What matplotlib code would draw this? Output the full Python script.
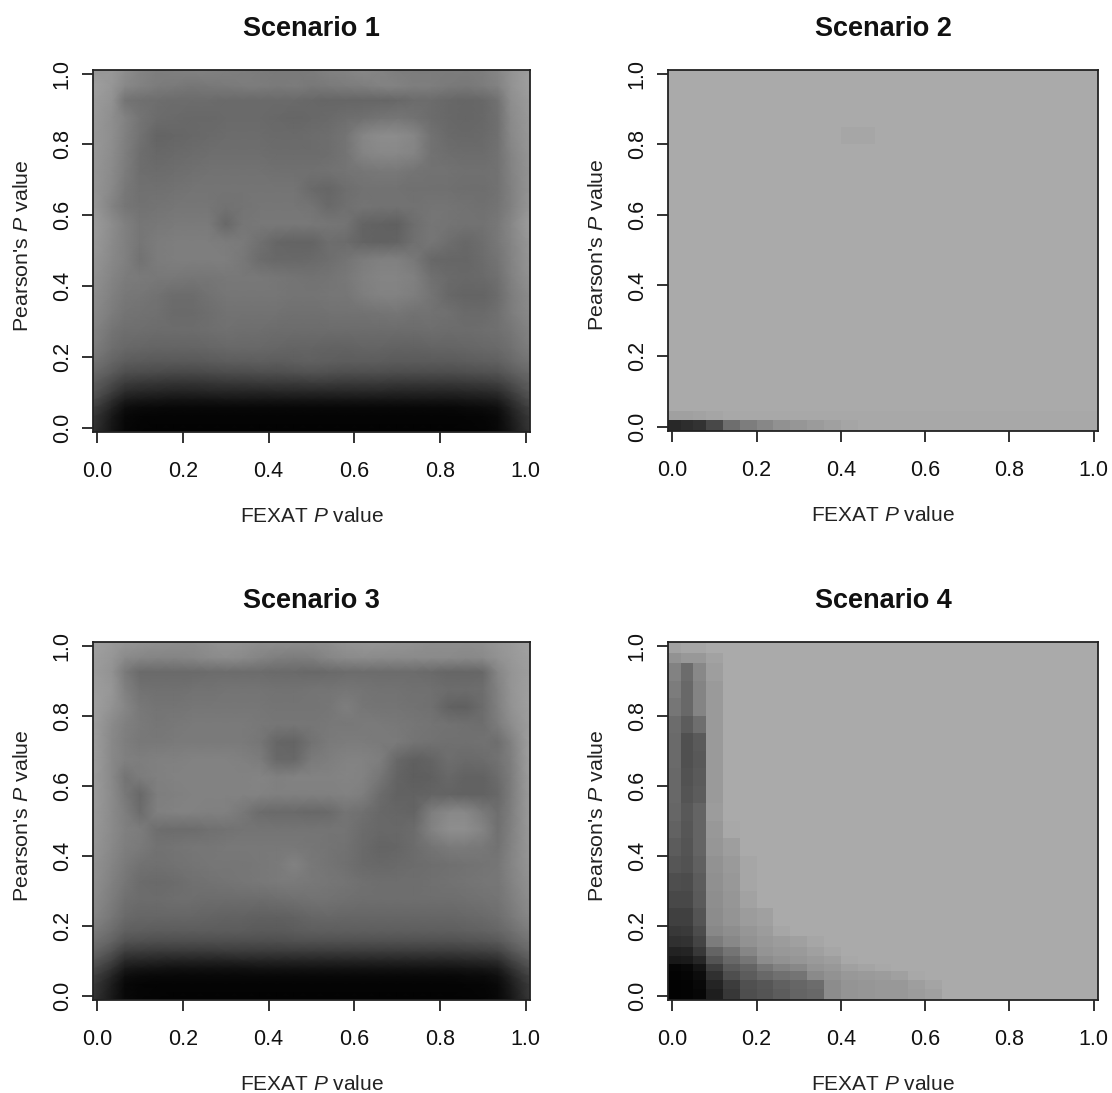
# -*- coding: utf-8 -*-
"""
four grey density maps, FEXAT vs Pearson P values
"""
import numpy as np
import matplotlib
matplotlib.use('Agg')
import matplotlib.pyplot as plt

plt.rcParams['font.family'] = ['Liberation Sans', 'DejaVu Sans']
plt.rcParams['mathtext.fontset'] = 'custom'
plt.rcParams['mathtext.it'] = 'Liberation Sans:italic'
plt.rcParams['mathtext.rm'] = 'Liberation Sans'

x_bins = [-.01, .02, .05, .08, .12, .16, .20, .24, .28, .32, .36, .40, .44, .48,
          .52, .56, .60, .64, .68, .72, .76, .80, .84, .88, .92, .95, .98, 1.01]
y_bins = [-.012, .02, .045, .07, .09, .115, .14, .17, .20, .25, .30, .35, .40, .45,
          .50, .55, .60, .65, .70, .75, .80, .85, .90, .95, .98, 1.01]
ticks = [0.0, 0.2, 0.4, 0.6, 0.8, 1.0]
tick_labels = ['0.0', '0.2', '0.4', '0.6', '0.8', '1.0']

# grey level of each cell, rows from the bottom (P=0) to the top (P=1)
scenario_1 = [
    [48, 20, 6, 4, 3, 3, 3, 3, 3, 3, 3, 3, 3, 3, 3, 3, 3, 3, 3, 3, 3, 3, 3, 4, 8, 22, 52],
    [55, 24, 8, 5, 4, 4, 4, 4, 4, 4, 4, 4, 4, 4, 4, 4, 4, 4, 4, 4, 4, 4, 5, 6, 10, 28, 58],
    [65, 34, 14, 10, 9, 8, 8, 8, 8, 8, 8, 8, 8, 8, 8, 8, 8, 8, 8, 8, 8, 8, 10, 12, 16, 36, 66],
    [78, 46, 28, 24, 22, 20, 20, 20, 22, 22, 22, 22, 22, 22, 22, 22, 22, 22, 22, 22, 22, 22, 24, 26, 30, 48, 78],
    [88, 62, 44, 40, 38, 36, 36, 38, 38, 38, 38, 40, 40, 40, 40, 40, 40, 40, 38, 38, 38, 38, 40, 42, 46, 62, 88],
    [96, 74, 60, 56, 54, 52, 52, 54, 56, 56, 58, 58, 58, 60, 60, 58, 58, 58, 56, 56, 56, 56, 58, 60, 64, 76, 96],
    [106, 90, 78, 76, 74, 72, 72, 74, 76, 76, 78, 78, 80, 82, 80, 78, 78, 78, 76, 76, 76, 76, 78, 80, 82, 92, 106],
    [116, 100, 92, 90, 88, 88, 88, 90, 92, 92, 94, 92, 94, 96, 94, 92, 92, 92, 90, 90, 90, 90, 92, 94, 96, 104, 116],
    [126, 110, 104, 102, 100, 100, 100, 102, 104, 104, 104, 102, 100, 100, 98, 98, 100, 100, 98, 98, 100, 100, 102, 104, 106, 112, 126],
    [132, 116, 110, 110, 108, 108, 108, 110, 112, 110, 110, 108, 108, 108, 108, 108, 108, 108, 108, 108, 110, 108, 108, 110, 112, 118, 132],
    [138, 124, 116, 114, 112, 106, 106, 110, 114, 114, 114, 114, 112, 112, 114, 114, 114, 116, 118, 114, 114, 112, 106, 106, 112, 124, 138],
    [142, 128, 120, 118, 114, 108, 108, 114, 118, 118, 118, 118, 116, 116, 118, 118, 126, 130, 130, 126, 116, 104, 100, 100, 108, 124, 140],
    [146, 132, 124, 122, 120, 120, 118, 118, 120, 120, 120, 118, 116, 114, 116, 120, 128, 132, 132, 128, 112, 106, 104, 106, 112, 128, 146],
    [150, 136, 128, 114, 124, 126, 126, 126, 126, 120, 108, 104, 104, 106, 110, 116, 124, 128, 128, 120, 104, 102, 102, 108, 116, 130, 150],
    [154, 138, 128, 118, 124, 126, 126, 126, 124, 122, 112, 102, 100, 100, 110, 108, 100, 98, 100, 112, 118, 110, 104, 110, 120, 132, 152],
    [156, 140, 128, 118, 120, 122, 122, 122, 104, 118, 120, 120, 120, 120, 118, 116, 100, 98, 96, 110, 118, 116, 114, 114, 120, 134, 158],
    [152, 130, 118, 114, 116, 118, 118, 118, 114, 116, 118, 118, 118, 116, 106, 112, 116, 114, 114, 114, 116, 116, 114, 112, 116, 128, 150],
    [150, 136, 120, 112, 112, 114, 116, 116, 116, 116, 116, 116, 116, 106, 102, 110, 114, 114, 114, 112, 112, 112, 110, 110, 114, 128, 148],
    [150, 138, 124, 110, 108, 110, 112, 114, 114, 114, 114, 112, 112, 112, 114, 116, 118, 120, 120, 116, 114, 114, 112, 112, 114, 130, 148],
    [152, 140, 126, 110, 104, 106, 108, 110, 110, 110, 110, 108, 108, 108, 110, 116, 132, 136, 136, 132, 114, 110, 108, 108, 114, 132, 150],
    [152, 142, 128, 114, 100, 102, 104, 106, 108, 108, 108, 106, 106, 108, 110, 116, 134, 140, 140, 134, 114, 106, 104, 106, 112, 136, 152],
    [154, 142, 130, 116, 108, 106, 104, 104, 106, 106, 106, 104, 102, 104, 106, 110, 112, 116, 118, 114, 108, 104, 102, 104, 112, 138, 154],
    [156, 146, 116, 112, 110, 108, 108, 108, 106, 106, 106, 106, 106, 104, 102, 102, 102, 102, 104, 108, 108, 104, 102, 104, 114, 142, 156],
    [160, 150, 136, 130, 124, 122, 118, 120, 122, 124, 124, 122, 124, 120, 122, 124, 126, 130, 130, 126, 126, 122, 120, 124, 130, 146, 160],
    [150, 152, 142, 132, 126, 128, 130, 130, 128, 126, 124, 122, 122, 124, 130, 132, 136, 132, 126, 124, 124, 124, 124, 126, 134, 146, 158],
]

scenario_2 = [
    [40, 45, 50, 72, 110, 125, 135, 145, 150, 155, 160, 165, 168, 168, 168, 168, 168, 168, 168, 168, 168, 168, 168, 168, 168, 168, 168],
    [160, 160, 162, 165, 168, 168, 168, 168, 168, 168, 168, 168, 168, 168, 168, 168, 168, 168, 168, 168, 168, 168, 168, 168, 168, 168, 168],
    [170, 170, 170, 170, 170, 170, 170, 170, 170, 170, 170, 170, 170, 170, 170, 170, 170, 170, 170, 170, 170, 170, 170, 170, 170, 170, 170],
    [170, 170, 170, 170, 170, 170, 170, 170, 170, 170, 170, 170, 170, 170, 170, 170, 170, 170, 170, 170, 170, 170, 170, 170, 170, 170, 170],
    [170, 170, 170, 170, 170, 170, 170, 170, 170, 170, 170, 170, 170, 170, 170, 170, 170, 170, 170, 170, 170, 170, 170, 170, 170, 170, 170],
    [170, 170, 170, 170, 170, 170, 170, 170, 170, 170, 170, 170, 170, 170, 170, 170, 170, 170, 170, 170, 170, 170, 170, 170, 170, 170, 170],
    [170, 170, 170, 170, 170, 170, 170, 170, 170, 170, 170, 170, 170, 170, 170, 170, 170, 170, 170, 170, 170, 170, 170, 170, 170, 170, 170],
    [170, 170, 170, 170, 170, 170, 170, 170, 170, 170, 170, 170, 170, 170, 170, 170, 170, 170, 170, 170, 170, 170, 170, 170, 170, 170, 170],
    [170, 170, 170, 170, 170, 170, 170, 170, 170, 170, 170, 170, 170, 170, 170, 170, 170, 170, 170, 170, 170, 170, 170, 170, 170, 170, 170],
    [170, 170, 170, 170, 170, 170, 170, 170, 170, 170, 170, 170, 170, 170, 170, 170, 170, 170, 170, 170, 170, 170, 170, 170, 170, 170, 170],
    [170, 170, 170, 170, 170, 170, 170, 170, 170, 170, 170, 170, 170, 170, 170, 170, 170, 170, 170, 170, 170, 170, 170, 170, 170, 170, 170],
    [170, 170, 170, 170, 170, 170, 170, 170, 170, 170, 170, 170, 170, 170, 170, 170, 170, 170, 170, 170, 170, 170, 170, 170, 170, 170, 170],
    [170, 170, 170, 170, 170, 170, 170, 170, 170, 170, 170, 170, 170, 170, 170, 170, 170, 170, 170, 170, 170, 170, 170, 170, 170, 170, 170],
    [170, 170, 170, 170, 170, 170, 170, 170, 170, 170, 170, 170, 170, 170, 170, 170, 170, 170, 170, 170, 170, 170, 170, 170, 170, 170, 170],
    [170, 170, 170, 170, 170, 170, 170, 170, 170, 170, 170, 170, 170, 170, 170, 170, 170, 170, 170, 170, 170, 170, 170, 170, 170, 170, 170],
    [170, 170, 170, 170, 170, 170, 170, 170, 170, 170, 170, 170, 170, 170, 170, 170, 170, 170, 170, 170, 170, 170, 170, 170, 170, 170, 170],
    [170, 170, 170, 170, 170, 170, 170, 170, 170, 170, 170, 170, 170, 170, 170, 170, 170, 170, 170, 170, 170, 170, 170, 170, 170, 170, 170],
    [170, 170, 170, 170, 170, 170, 170, 170, 170, 170, 170, 170, 170, 170, 170, 170, 170, 170, 170, 170, 170, 170, 170, 170, 170, 170, 170],
    [170, 170, 170, 170, 170, 170, 170, 170, 170, 170, 170, 170, 170, 170, 170, 170, 170, 170, 170, 170, 170, 170, 170, 170, 170, 170, 170],
    [170, 170, 170, 170, 170, 170, 170, 170, 170, 170, 170, 170, 170, 170, 170, 170, 170, 170, 170, 170, 170, 170, 170, 170, 170, 170, 170],
    [170, 170, 170, 170, 170, 170, 170, 170, 170, 170, 170, 166, 166, 170, 170, 170, 170, 170, 170, 170, 170, 170, 170, 170, 170, 170, 170],
    [170, 170, 170, 170, 170, 170, 170, 170, 170, 170, 170, 170, 170, 170, 170, 170, 170, 170, 170, 170, 170, 170, 170, 170, 170, 170, 170],
    [170, 170, 170, 170, 170, 170, 170, 170, 170, 170, 170, 170, 170, 170, 170, 170, 170, 170, 170, 170, 170, 170, 170, 170, 170, 170, 170],
    [170, 170, 170, 170, 170, 170, 170, 170, 170, 170, 170, 170, 170, 170, 170, 170, 170, 170, 170, 170, 170, 170, 170, 170, 170, 170, 170],
    [170, 170, 170, 170, 170, 170, 170, 170, 170, 170, 170, 170, 170, 170, 170, 170, 170, 170, 170, 170, 170, 170, 170, 170, 170, 170, 170],
]

scenario_3 = [
    [50, 24, 8, 5, 4, 3, 3, 3, 3, 3, 3, 3, 3, 3, 3, 3, 3, 3, 3, 3, 3, 3, 3, 4, 8, 22, 55],
    [58, 28, 8, 5, 4, 4, 4, 4, 4, 4, 4, 4, 4, 4, 4, 4, 4, 4, 4, 4, 4, 4, 5, 6, 10, 28, 60],
    [66, 36, 14, 10, 8, 8, 8, 8, 8, 8, 8, 8, 8, 8, 8, 8, 8, 8, 8, 8, 8, 8, 10, 10, 16, 36, 68],
    [78, 50, 26, 22, 20, 18, 18, 18, 18, 18, 20, 20, 20, 20, 20, 20, 20, 20, 20, 20, 20, 20, 22, 24, 28, 50, 80],
    [90, 66, 42, 40, 38, 36, 36, 36, 36, 38, 38, 38, 38, 38, 38, 38, 38, 38, 38, 38, 38, 38, 40, 42, 46, 66, 92],
    [104, 82, 62, 60, 58, 58, 58, 58, 60, 60, 60, 60, 60, 60, 60, 60, 60, 60, 60, 60, 60, 60, 62, 64, 68, 84, 106],
    [114, 98, 82, 80, 78, 78, 78, 78, 78, 78, 78, 78, 80, 80, 80, 80, 80, 80, 80, 80, 80, 80, 82, 84, 88, 100, 116],
    [124, 108, 96, 94, 92, 92, 92, 92, 92, 92, 90, 90, 92, 94, 94, 94, 94, 94, 94, 94, 94, 94, 96, 98, 102, 110, 126],
    [134, 118, 106, 102, 102, 102, 102, 100, 98, 98, 96, 96, 98, 102, 104, 102, 102, 102, 102, 102, 102, 102, 104, 106, 110, 120, 136],
    [140, 124, 112, 108, 108, 110, 110, 108, 108, 108, 108, 110, 112, 114, 114, 112, 110, 110, 110, 110, 110, 110, 112, 114, 116, 126, 142],
    [144, 128, 118, 108, 106, 108, 112, 114, 116, 118, 120, 122, 122, 120, 118, 116, 112, 110, 110, 110, 112, 114, 116, 118, 118, 130, 146],
    [146, 132, 122, 114, 112, 114, 116, 118, 118, 118, 120, 122, 130, 120, 116, 112, 106, 104, 106, 108, 110, 112, 114, 116, 118, 132, 150],
    [150, 136, 126, 122, 114, 116, 118, 118, 120, 120, 120, 120, 120, 118, 116, 114, 106, 100, 102, 108, 116, 122, 122, 120, 114, 130, 152],
    [152, 138, 128, 124, 110, 108, 108, 112, 114, 116, 116, 116, 116, 116, 116, 116, 108, 104, 104, 108, 130, 142, 142, 132, 112, 128, 154],
    [154, 138, 126, 108, 128, 130, 130, 128, 128, 120, 108, 106, 106, 104, 106, 116, 112, 104, 102, 100, 126, 136, 136, 122, 110, 126, 156],
    [156, 138, 120, 104, 126, 128, 130, 130, 130, 130, 130, 128, 128, 128, 128, 130, 126, 108, 98, 98, 100, 100, 98, 98, 104, 124, 156],
    [156, 136, 116, 124, 128, 130, 130, 130, 130, 130, 132, 128, 130, 130, 130, 132, 130, 118, 100, 94, 96, 104, 98, 98, 108, 124, 158],
    [158, 136, 128, 126, 128, 128, 130, 130, 130, 128, 124, 104, 104, 122, 126, 130, 130, 126, 104, 96, 100, 110, 106, 108, 114, 126, 160],
    [158, 136, 126, 120, 120, 122, 122, 122, 122, 122, 118, 102, 100, 114, 122, 124, 124, 122, 122, 116, 114, 112, 112, 114, 110, 128, 160],
    [158, 138, 128, 122, 118, 120, 122, 122, 122, 122, 120, 118, 118, 118, 120, 120, 122, 122, 120, 118, 116, 114, 112, 110, 124, 140, 158],
    [160, 146, 134, 120, 116, 116, 118, 118, 118, 118, 118, 116, 116, 116, 118, 126, 118, 116, 116, 114, 112, 98, 96, 108, 128, 146, 160],
    [158, 150, 128, 114, 112, 112, 114, 114, 116, 116, 116, 114, 114, 116, 116, 118, 116, 114, 114, 112, 112, 108, 108, 110, 130, 148, 160],
    [156, 146, 122, 106, 106, 106, 106, 108, 108, 108, 108, 106, 106, 104, 106, 108, 108, 108, 108, 108, 106, 102, 102, 104, 134, 148, 158],
    [158, 150, 138, 134, 132, 132, 134, 138, 140, 138, 132, 126, 124, 126, 134, 138, 140, 138, 138, 138, 138, 138, 136, 138, 146, 152, 160],
    [160, 154, 150, 148, 144, 142, 140, 144, 148, 146, 142, 142, 142, 140, 142, 148, 150, 150, 148, 146, 142, 142, 142, 144, 150, 154, 162],
]

scenario_4 = [
    [2, 3, 6, 30, 55, 78, 84, 92, 100, 104, 140, 148, 150, 152, 152, 156, 160, 170, 170, 170, 170, 170, 170, 170, 170, 170, 170],
    [2, 3, 8, 36, 60, 80, 86, 96, 102, 108, 140, 148, 150, 152, 152, 158, 164, 170, 170, 170, 170, 170, 170, 170, 170, 170, 170],
    [3, 5, 12, 48, 78, 92, 104, 112, 116, 138, 146, 152, 154, 156, 160, 168, 170, 170, 170, 170, 170, 170, 170, 170, 170, 170, 170],
    [5, 8, 20, 62, 90, 100, 118, 130, 136, 148, 152, 160, 164, 168, 170, 170, 170, 170, 170, 170, 170, 170, 170, 170, 170, 170, 170],
    [24, 26, 38, 84, 104, 118, 140, 146, 150, 154, 158, 168, 170, 170, 170, 170, 170, 170, 170, 170, 170, 170, 170, 170, 170, 170, 170],
    [34, 36, 56, 100, 116, 134, 148, 152, 154, 160, 166, 170, 170, 170, 170, 170, 170, 170, 170, 170, 170, 170, 170, 170, 170, 170, 170],
    [48, 50, 68, 124, 136, 146, 152, 156, 160, 166, 170, 170, 170, 170, 170, 170, 170, 170, 170, 170, 170, 170, 170, 170, 170, 170, 170],
    [56, 58, 76, 136, 142, 150, 156, 166, 170, 170, 170, 170, 170, 170, 170, 170, 170, 170, 170, 170, 170, 170, 170, 170, 170, 170, 170],
    [64, 64, 84, 140, 148, 156, 160, 170, 170, 170, 170, 170, 170, 170, 170, 170, 170, 170, 170, 170, 170, 170, 170, 170, 170, 170, 170],
    [72, 72, 90, 142, 150, 162, 170, 170, 170, 170, 170, 170, 170, 170, 170, 170, 170, 170, 170, 170, 170, 170, 170, 170, 170, 170, 170],
    [78, 76, 92, 144, 152, 166, 170, 170, 170, 170, 170, 170, 170, 170, 170, 170, 170, 170, 170, 170, 170, 170, 170, 170, 170, 170, 170],
    [86, 82, 96, 146, 154, 166, 170, 170, 170, 170, 170, 170, 170, 170, 170, 170, 170, 170, 170, 170, 170, 170, 170, 170, 170, 170, 170],
    [92, 84, 100, 150, 158, 170, 170, 170, 170, 170, 170, 170, 170, 170, 170, 170, 170, 170, 170, 170, 170, 170, 170, 170, 170, 170, 170],
    [98, 86, 100, 152, 168, 170, 170, 170, 170, 170, 170, 170, 170, 170, 170, 170, 170, 170, 170, 170, 170, 170, 170, 170, 170, 170, 170],
    [102, 88, 100, 156, 170, 170, 170, 170, 170, 170, 170, 170, 170, 170, 170, 170, 170, 170, 170, 170, 170, 170, 170, 170, 170, 170, 170],
    [104, 84, 92, 154, 170, 170, 170, 170, 170, 170, 170, 170, 170, 170, 170, 170, 170, 170, 170, 170, 170, 170, 170, 170, 170, 170, 170],
    [104, 82, 90, 154, 170, 170, 170, 170, 170, 170, 170, 170, 170, 170, 170, 170, 170, 170, 170, 170, 170, 170, 170, 170, 170, 170, 170],
    [106, 80, 88, 154, 170, 170, 170, 170, 170, 170, 170, 170, 170, 170, 170, 170, 170, 170, 170, 170, 170, 170, 170, 170, 170, 170, 170],
    [106, 80, 90, 154, 170, 170, 170, 170, 170, 170, 170, 170, 170, 170, 170, 170, 170, 170, 170, 170, 170, 170, 170, 170, 170, 170, 170],
    [108, 92, 110, 154, 170, 170, 170, 170, 170, 170, 170, 170, 170, 170, 170, 170, 170, 170, 170, 170, 170, 170, 170, 170, 170, 170, 170],
    [118, 104, 132, 154, 170, 170, 170, 170, 170, 170, 170, 170, 170, 170, 170, 170, 170, 170, 170, 170, 170, 170, 170, 170, 170, 170, 170],
    [124, 104, 132, 154, 170, 170, 170, 170, 170, 170, 170, 170, 170, 170, 170, 170, 170, 170, 170, 170, 170, 170, 170, 170, 170, 170, 170],
    [130, 108, 136, 158, 170, 170, 170, 170, 170, 170, 170, 170, 170, 170, 170, 170, 170, 170, 170, 170, 170, 170, 170, 170, 170, 170, 170],
    [146, 152, 152, 162, 170, 170, 170, 170, 170, 170, 170, 170, 170, 170, 170, 170, 170, 170, 170, 170, 170, 170, 170, 170, 170, 170, 170],
    [162, 166, 166, 170, 170, 170, 170, 170, 170, 170, 170, 170, 170, 170, 170, 170, 170, 170, 170, 170, 170, 170, 170, 170, 170, 170, 170],
]

W, H = 1112, 1093
fig = plt.figure(figsize=(W / 100, H / 100), dpi=100, facecolor='white')


def draw_panel(left, right, top, bottom, grid, title, smooth=False):
    """
    one density map, box given in pixels from the top left
    """
    ax = fig.add_axes([left / W, 1 - bottom / H, (right - left) / W, (bottom - top) / H])
    xe, ye = np.array(x_bins), np.array(y_bins)
    if smooth:
        # gouraud wants one node per cell, stretch the outer ones to the box
        xc = (xe[:-1] + xe[1:]) / 2
        yc = (ye[:-1] + ye[1:]) / 2
        xc[0], xc[-1] = xe[0], xe[-1]
        yc[0], yc[-1] = ye[0], ye[-1]
        ax.pcolormesh(xc, yc, np.array(grid), cmap='gray', vmin=0, vmax=255, shading='gouraud')
    else:
        ax.pcolormesh(xe, ye, np.array(grid), cmap='gray', vmin=0, vmax=255, shading='flat')
    ax.set_xlim(-0.01, 1.01)
    ax.set_ylim(-0.012, 1.01)
    ax.set_xticks(ticks)
    ax.set_xticklabels(tick_labels)
    ax.set_yticks(ticks)
    ax.set_yticklabels(tick_labels, rotation=90, va='center')
    ax.tick_params(axis='both', length=8, width=1.3, color='#222222',
                   labelsize=15.5, labelcolor='#111111')
    ax.tick_params(axis='x', pad=13)
    ax.tick_params(axis='y', pad=6.5)
    for s in ax.spines.values():
        s.set_linewidth(1.3)
        s.set_color('#222222')
    ax.set_title(title, fontsize=19.5, fontweight='bold', color='#111111', pad=24.5)
    ax.set_xlabel('FEXAT $P$ value', fontsize=15, color='#222222', labelpad=18)
    ax.set_ylabel("Pearson's $P$ value", fontsize=15.4, color='#222222', labelpad=14, y=0.515)


draw_panel(93, 530, 70, 432, scenario_1, 'Scenario 1', smooth=True)
draw_panel(668, 1098, 70, 431, scenario_2, 'Scenario 2')
draw_panel(93, 530, 642, 1000, scenario_3, 'Scenario 3', smooth=True)
draw_panel(668, 1098, 642, 1000, scenario_4, 'Scenario 4')

fig.savefig('out.png', dpi=100)
